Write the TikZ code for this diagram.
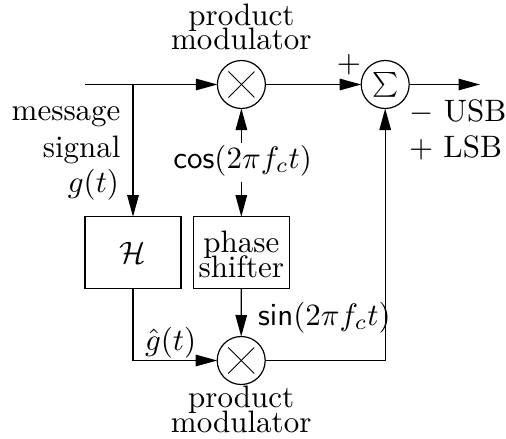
\documentclass[tikz,border=0pt]{standalone}
\usetikzlibrary{arrows.meta}
\tikzset{
  lbl/.style={scale=3.1,inner sep=0pt,outer sep=0pt,align=center,font=\fontsize{10}{7.75}\selectfont},
  opcircle/.style={draw,circle,minimum size=48pt,inner sep=0pt,outer sep=0pt},
  blockbox/.style={draw,rectangle,minimum width=96pt,minimum height=72pt,inner sep=0pt,outer sep=0pt},
  wire/.style={line width=1.2pt},
  arrowwire/.style={wire,-{Triangle[length=21.5pt,width=11.5pt]}},
  crossline/.style={line width=0.9pt}
}
\begin{document}
\begin{tikzpicture}[x=1pt,y=-1pt,line width=1.2pt]
\useasboundingbox (0,0) rectangle (506,439);
% operators
\node[opcircle] (m1) at (241.4,84.5) {};
\node[opcircle] (sum) at (385.2,84.5) {};
\node[opcircle] (m2) at (241.2,360.5) {};
\draw[crossline] ([shift={(-13,-13)}]m1.center) -- ([shift={(13,13)}]m1.center);
\draw[crossline] ([shift={(-13,13)}]m1.center) -- ([shift={(13,-13)}]m1.center);
\draw[crossline] ([shift={(-13,-13)}]m2.center) -- ([shift={(13,13)}]m2.center);
\draw[crossline] ([shift={(-13,13)}]m2.center) -- ([shift={(13,-13)}]m2.center);
\node[lbl,scale=0.8] (sigma) at (385.2,84.5) {$\textstyle\sum$};
% blocks
\node[blockbox] (hil) at (133,252.7) {};
\node[blockbox] (ps) at (241.3,252.7) {};
\node[lbl] (hiltext) at (133,253) {$\mathcal{H}$};
\node[lbl] (pstext) at (241.3,254.5) {phase\\[-2pt]shifter};
% labels
\node[lbl,anchor=base east] (msg1) at (120.5,120) {message};
\node[lbl,anchor=base east] (msg2) at (120.5,157) {signal};
\node[lbl,anchor=base east] (msg3) at (119,192) {$g(t)$};
\node[lbl] (top) at (241.4,27) {product\\[-2pt]modulator};
\node[lbl] (bot) at (241.2,409.5) {product\\[-2pt]modulator};
\node[lbl,anchor=base] (cos) at (242.6,168) {$\mathsf{cos}(2\pi f_c t)$};
\node[lbl,anchor=base west] (sin) at (258,325) {$\mathsf{sin}(2\pi f_c t)$};
\node[lbl,anchor=base west] (ghat) at (145,350) {$\hat g(t)$};
\node[lbl] (plus) at (349,65) {$+$};
\node[lbl,anchor=base west] (usb) at (409.5,121) {$-$ USB};
\node[lbl,anchor=base west] (lsb) at (409,157) {$+$ LSB};
% connectors
\coordinate (in) at (85,84.5);
\coordinate (branch) at (133,84.5);
\coordinate (out) at (480,84.5);
\draw[arrowwire] (in) -- (m1.west);
\draw[arrowwire] (branch) -- (hil.north);
\draw[arrowwire] (m1.east) -- (sum.west);
\draw[arrowwire] (sum.east) -- (out);
\draw[arrowwire] ([yshift=2pt]cos.north -| m1.south) -- (m1.south);
\draw[arrowwire] ([yshift=-6pt]cos.south -| ps.north) -- (ps.north);
\draw[arrowwire] (ps.south) -- (m2.north);
\draw[arrowwire] (hil.south) |- (m2.west);
\draw[arrowwire] (m2.east) -| (sum.south);
\end{tikzpicture}
\end{document}
